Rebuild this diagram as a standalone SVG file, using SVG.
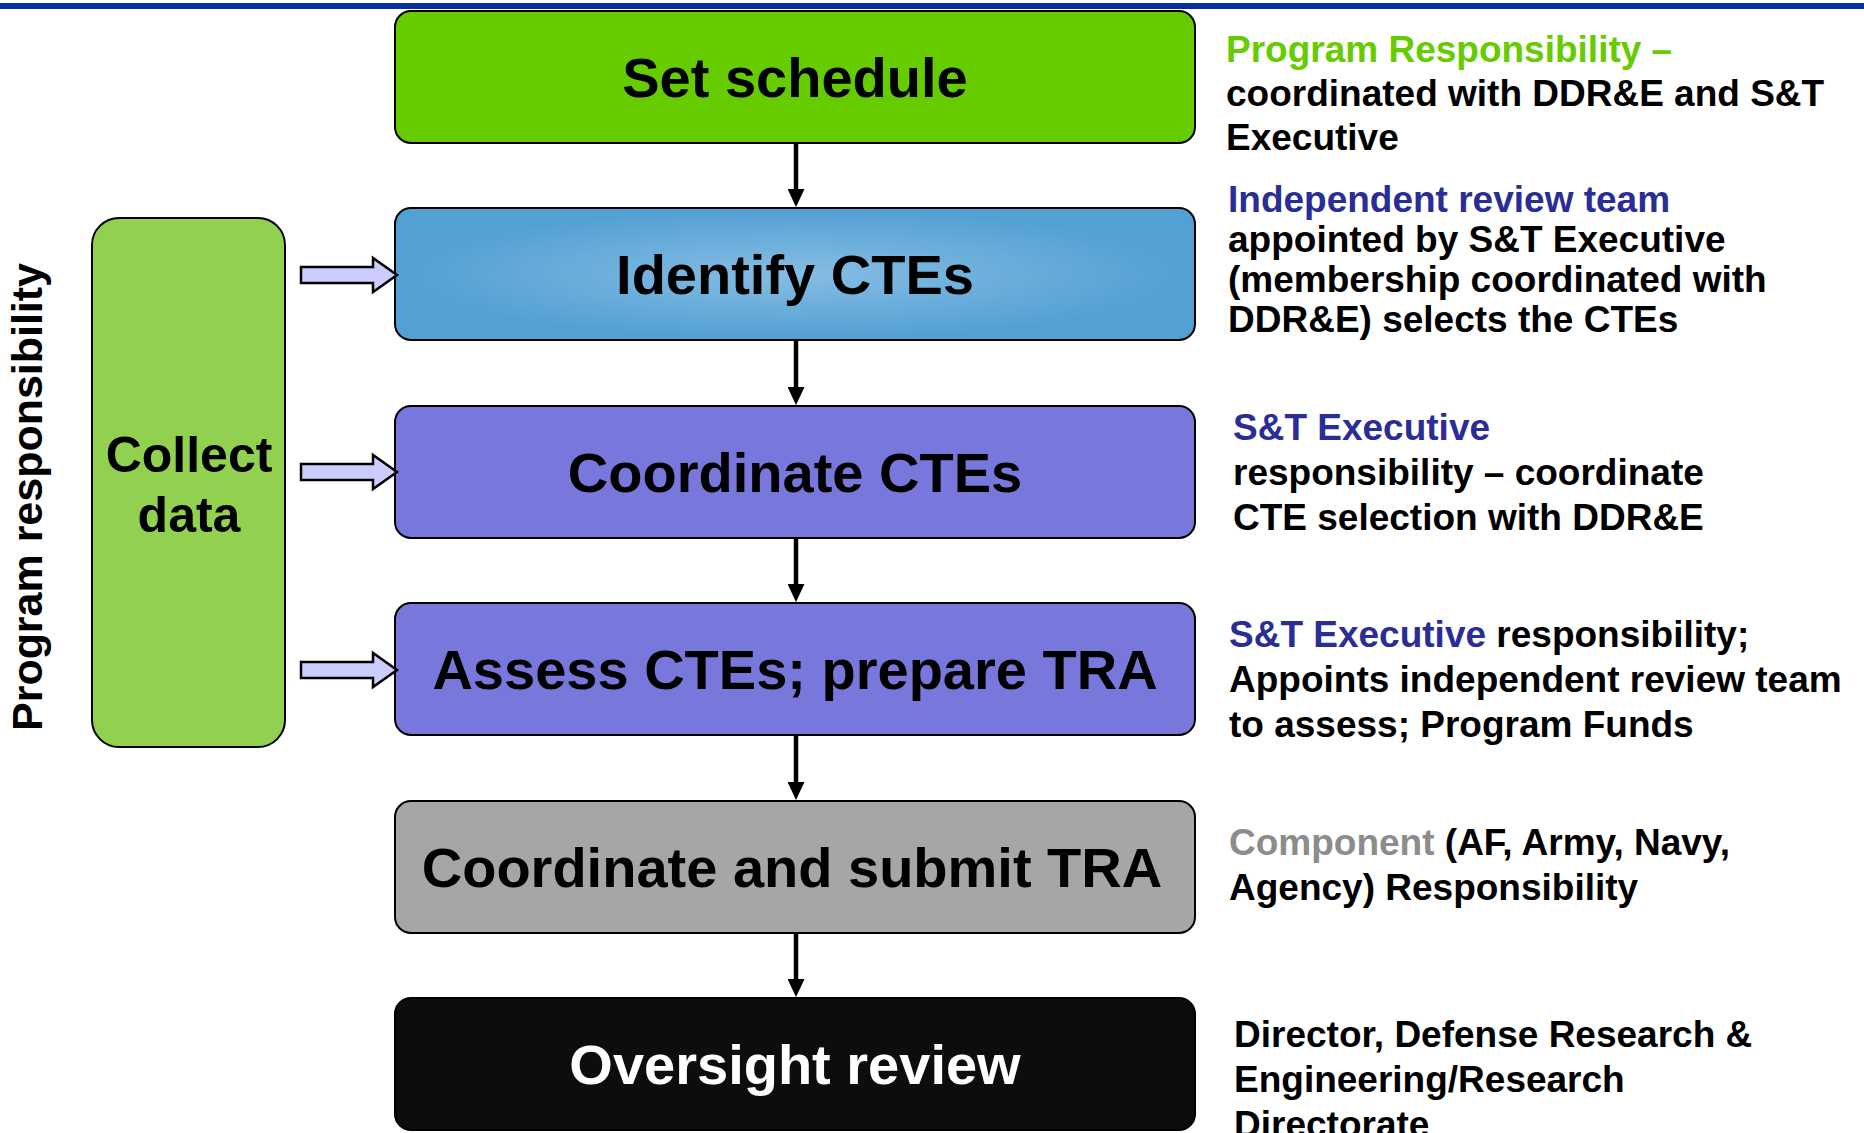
<svg xmlns="http://www.w3.org/2000/svg" width="1864" height="1133" viewBox="0 0 1864 1133">
<style>
text{font-family:"Liberation Sans",Arial,Helvetica,sans-serif;font-weight:bold}
.box{stroke:#000;stroke-width:2}
.big{font-size:56px;text-anchor:middle}
.note{font-size:37px;fill:#000}
.grn{fill:#66cc00}
.blu{fill:#2b2d96}
.gry{fill:#8c8c8c}
.conn{stroke:#000;stroke-width:4.5;fill:none}
.barrow{fill:#ccccff;stroke:#000;stroke-width:2.5;stroke-linejoin:miter}
</style>
<defs>
<radialGradient id="blueGrad" cx="50%" cy="50%" r="50%">
<stop offset="0%" stop-color="#86bde3"/>
<stop offset="100%" stop-color="#52a0d4"/>
</radialGradient>
<marker id="arr" markerWidth="18" markerHeight="17" refX="8" refY="8.5" orient="auto" markerUnits="userSpaceOnUse" viewBox="0 0 18 17">
<path d="M0,0 L18,8.5 L0,17 Z" fill="#000"/>
</marker>
</defs>
<rect x="0" y="3" width="1864" height="6" fill="#05309e"/>
<text transform="translate(42,497) rotate(-90)" font-size="42" text-anchor="middle" textLength="468" lengthAdjust="spacingAndGlyphs">Program responsibility</text>
<g id="collect-data">
<rect class="box" x="92" y="218" width="193" height="529" rx="27" ry="27" fill="#92d050"/>
<text x="189" y="472" font-size="50" text-anchor="middle">Collect</text>
<text x="189" y="532" font-size="50" text-anchor="middle">data</text>
</g>
<g id="set-schedule">
<rect class="box" x="395" y="11" width="800" height="132" rx="16" ry="16" fill="#66cc00"/>
<text class="big" x="795" y="97">Set schedule</text>
</g>
<g id="identify-ctes">
<rect class="box" x="395" y="208" width="800" height="132" rx="16" ry="16" fill="url(#blueGrad)"/>
<text class="big" x="795" y="294">Identify CTEs</text>
</g>
<g id="coordinate-ctes">
<rect class="box" x="395" y="406" width="800" height="132" rx="16" ry="16" fill="#7878dc"/>
<text class="big" x="795" y="492">Coordinate CTEs</text>
</g>
<g id="assess-ctes">
<rect class="box" x="395" y="603" width="800" height="132" rx="16" ry="16" fill="#7878dc"/>
<text class="big" x="795" y="689">Assess CTEs; prepare TRA</text>
</g>
<g id="coordinate-submit">
<rect class="box" x="395" y="801" width="800" height="132" rx="16" ry="16" fill="#a6a6a6"/>
<text class="big" x="792" y="887">Coordinate and submit TRA</text>
</g>
<g id="oversight-review">
<rect class="box" x="395" y="998" width="800" height="132" rx="16" ry="16" fill="#0d0d0d"/>
<text class="big" x="795" y="1084" fill="#fff">Oversight review</text>
</g>
<g id="connectors">
<line class="conn" x1="796" y1="143" x2="796" y2="197" marker-end="url(#arr)"/>
<line class="conn" x1="796" y1="340" x2="796" y2="395" marker-end="url(#arr)"/>
<line class="conn" x1="796" y1="538" x2="796" y2="592" marker-end="url(#arr)"/>
<line class="conn" x1="796" y1="735" x2="796" y2="790" marker-end="url(#arr)"/>
<line class="conn" x1="796" y1="933" x2="796" y2="987" marker-end="url(#arr)"/>
<path class="barrow" d="M301,267 L373,267 L373,258 L397,275 L373,292 L373,283 L301,283 Z"/>
<path class="barrow" d="M301,464 L373,464 L373,455 L397,472 L373,489 L373,480 L301,480 Z"/>
<path class="barrow" d="M301,662 L373,662 L373,653 L397,670 L373,687 L373,678 L301,678 Z"/>
</g>
<g id="note-set-schedule" class="note">
<text x="1226" y="62" class="grn">Program Responsibility –</text>
<text x="1226" y="106">coordinated with DDR&amp;E and S&amp;T</text>
<text x="1226" y="150">Executive</text>
</g>
<g id="note-identify" class="note">
<text x="1228" y="212" class="blu">Independent review team</text>
<text x="1228" y="252">appointed by S&amp;T Executive</text>
<text x="1228" y="292">(membership coordinated with</text>
<text x="1228" y="332">DDR&amp;E) selects the CTEs</text>
</g>
<g id="note-coordinate" class="note">
<text x="1233" y="440" class="blu">S&amp;T Executive</text>
<text x="1233" y="485">responsibility – coordinate</text>
<text x="1233" y="530">CTE selection with DDR&amp;E</text>
</g>
<g id="note-assess" class="note">
<text x="1229" y="647"><tspan class="blu">S&amp;T Executive</tspan> responsibility;</text>
<text x="1229" y="692">Appoints independent review team</text>
<text x="1229" y="737">to assess; Program Funds</text>
</g>
<g id="note-submit" class="note">
<text x="1229" y="855"><tspan class="gry">Component</tspan> (AF, Army, Navy,</text>
<text x="1229" y="900">Agency) Responsibility</text>
</g>
<g id="note-oversight" class="note">
<text x="1234" y="1047">Director, Defense Research &amp;</text>
<text x="1234" y="1092">Engineering/Research</text>
<text x="1234" y="1137">Directorate</text>
</g>
</svg>
